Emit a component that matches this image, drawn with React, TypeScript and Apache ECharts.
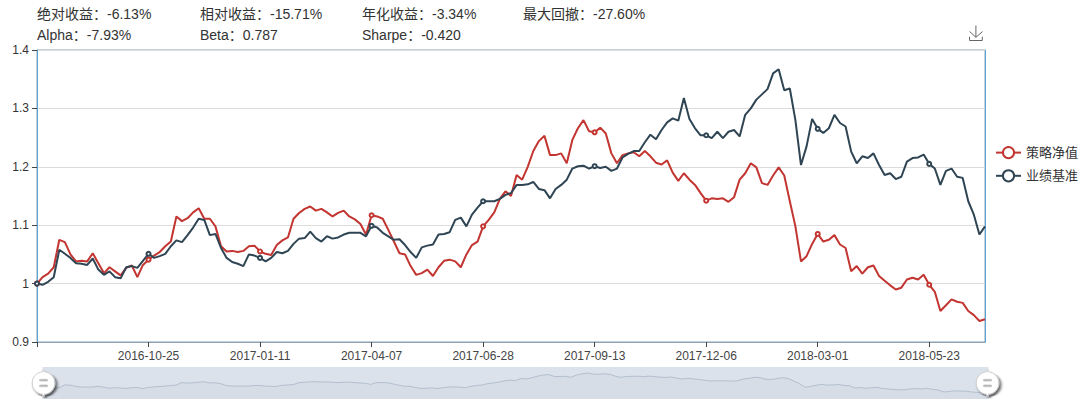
import React, { useEffect, useRef } from 'react';
import * as echarts from 'echarts';

// ---- data ----
const startDate = '2016-08-08';
const endDate = '2018-06-29';
const tickLabels = [
  '2016-10-25', '2017-01-11', '2017-04-07', '2017-06-28',
  '2017-09-13', '2017-12-06', '2018-03-01', '2018-05-23',
];
const anchorIndex = [0, 20, 40, 60, 80, 100, 120, 140, 160, 170];

const strategyNav = [
  1.000, 1.011, 1.017, 1.028, 1.075, 1.071, 1.050, 1.038, 1.039, 1.038,
  1.052, 1.035, 1.018, 1.028, 1.021, 1.014, 1.027, 1.031, 1.011, 1.032,
  1.041, 1.048, 1.054, 1.064, 1.072, 1.115, 1.107, 1.112, 1.122, 1.129,
  1.111, 1.111, 1.098, 1.064, 1.055, 1.056, 1.054, 1.056, 1.064, 1.065,
  1.055, 1.051, 1.049, 1.066, 1.074, 1.079, 1.111, 1.121, 1.128, 1.132,
  1.125, 1.128, 1.122, 1.115, 1.121, 1.125, 1.115, 1.110, 1.102, 1.084,
  1.117, 1.115, 1.111, 1.092, 1.072, 1.052, 1.050, 1.030, 1.015, 1.018,
  1.024, 1.013, 1.028, 1.039, 1.041, 1.038, 1.028, 1.050, 1.066, 1.072,
  1.098, 1.109, 1.122, 1.145, 1.158, 1.150, 1.186, 1.178, 1.200, 1.227,
  1.244, 1.253, 1.220, 1.220, 1.223, 1.206, 1.246, 1.266, 1.280, 1.261,
  1.259, 1.267, 1.257, 1.223, 1.206, 1.220, 1.223, 1.225, 1.218, 1.227,
  1.218, 1.207, 1.204, 1.211, 1.190, 1.176, 1.189, 1.178, 1.169, 1.155,
  1.142, 1.146, 1.145, 1.146, 1.140, 1.148, 1.178, 1.189, 1.206, 1.199,
  1.172, 1.169, 1.185, 1.199, 1.185, 1.141, 1.098, 1.038, 1.047, 1.068,
  1.085, 1.072, 1.075, 1.083, 1.067, 1.061, 1.021, 1.030, 1.017, 1.028,
  1.031, 1.013, 1.005, 0.997, 0.990, 0.993, 1.007, 1.010, 1.007, 1.015,
  0.998, 0.986, 0.953, 0.963, 0.973, 0.969, 0.967, 0.953, 0.946, 0.936,
  0.939,
];

const benchmark = [
  1.000, 0.998, 1.003, 1.011, 1.058, 1.051, 1.044, 1.035, 1.034, 1.032,
  1.043, 1.024, 1.015, 1.021, 1.011, 1.009, 1.028, 1.030, 1.027, 1.039,
  1.051, 1.044, 1.047, 1.051, 1.064, 1.074, 1.071, 1.083, 1.096, 1.111,
  1.109, 1.083, 1.085, 1.061, 1.044, 1.037, 1.034, 1.030, 1.050, 1.048,
  1.044, 1.038, 1.044, 1.054, 1.052, 1.056, 1.068, 1.077, 1.078, 1.089,
  1.078, 1.072, 1.081, 1.077, 1.079, 1.084, 1.087, 1.087, 1.087, 1.081,
  1.099, 1.096, 1.087, 1.081, 1.075, 1.076, 1.066, 1.054, 1.044, 1.062,
  1.065, 1.067, 1.084, 1.085, 1.088, 1.109, 1.113, 1.098, 1.118, 1.130,
  1.141, 1.141, 1.141, 1.145, 1.152, 1.155, 1.169, 1.169, 1.170, 1.174,
  1.162, 1.160, 1.146, 1.162, 1.169, 1.178, 1.197, 1.201, 1.202, 1.197,
  1.201, 1.198, 1.200, 1.193, 1.197, 1.216, 1.222, 1.227, 1.227, 1.242,
  1.255, 1.247, 1.263, 1.276, 1.283, 1.279, 1.318, 1.282, 1.266, 1.254,
  1.254, 1.249, 1.260, 1.249, 1.260, 1.263, 1.252, 1.289, 1.300, 1.315,
  1.324, 1.333, 1.360, 1.367, 1.331, 1.334, 1.280, 1.203, 1.235, 1.282,
  1.265, 1.258, 1.266, 1.289, 1.275, 1.269, 1.226, 1.206, 1.218, 1.215,
  1.223, 1.203, 1.186, 1.189, 1.179, 1.183, 1.209, 1.215, 1.216, 1.221,
  1.205, 1.197, 1.169, 1.193, 1.197, 1.183, 1.181, 1.141, 1.118, 1.084,
  1.098,
];

const statsRow1 = ['绝对收益：-6.13%', '相对收益：-15.71%', '年化收益：-3.34%', '最大回撤：-27.60%'];
const statsRow2 = ['Alpha：-7.93%', 'Beta：0.787', 'Sharpe：-0.420'];
const seriesNames = ['策略净值', '业绩基准'];

// category dates built from the labelled anchor dates
function buildCategories(): string[] {
  const anchors = [startDate, ...tickLabels, endDate].map((d) => Date.parse(d + 'T00:00:00Z'));
  const out: string[] = [];
  const n = anchorIndex[anchorIndex.length - 1] + 1;
  for (let i = 0; i < n; i++) {
    let s = 0;
    while (s < anchorIndex.length - 2 && i > anchorIndex[s + 1]) s++;
    const i0 = anchorIndex[s], i1 = anchorIndex[s + 1];
    const t0 = anchors[s], t1 = anchors[s + 1];
    const dayMs = 86400000;
    const days = Math.round(((t1 - t0) / dayMs) * (i - i0) / (i1 - i0));
    const d = new Date(t0 + days * dayMs);
    out.push(d.toISOString().slice(0, 10));
  }
  return out;
}
const categories = buildCategories();

const handlePath =
  'path://M10.7,11.9v-1.3H9.3v1.3c-4.9,0.3-8.8,4.4-8.8,9.4c0,5,3.9,9.1,8.8,9.4v1.3h1.3v-1.3c4.9-0.3,8.8-4.4,8.8-9.4C19.5,16.3,15.6,12.2,10.7,11.9z M13.3,24.4H6.7V23h6.6V24.4z M13.3,19.6H6.7v-1.4h6.6V19.6z';

export default function App() {
  const ref = useRef<HTMLDivElement>(null);

  useEffect(() => {
    document.body.style.margin = '0';
    if (!ref.current) return;
    const chart = echarts.init(ref.current, undefined, { renderer: 'svg' });
    const fontFamily = '"Liberation Sans", Arial, "Noto Sans CJK SC", sans-serif';
    const colX = [37, 200, 362, 523];

    const graphics: any[] = [];
    statsRow1.forEach((t, k) =>
      graphics.push({
        type: 'text', x: colX[k], y: 14,
        style: { text: t, fontSize: 14, fill: '#333', fontFamily, verticalAlign: 'middle' },
      })
    );
    statsRow2.forEach((t, k) =>
      graphics.push({
        type: 'text', x: colX[k], y: 35,
        style: { text: t, fontSize: 14, fill: '#333', fontFamily, verticalAlign: 'middle' },
      })
    );

    chart.setOption({
      animation: false,
      textStyle: { fontFamily },
      color: ['#c23531', '#2f4554'],
      graphic: graphics,
      toolbox: {
        right: 80,
        top: 8,
        itemSize: 15,
        feature: { saveAsImage: { title: '' } },
        iconStyle: { borderColor: '#666' },
      },
      legend: {
        data: seriesNames,
        orient: 'vertical',
        left: 990,
        top: 141,
        itemWidth: 25,
        itemHeight: 14,
        itemGap: 10,
        textStyle: { fontSize: 13, color: '#333' },
      },
      grid: {
        left: 37, right: 95, top: 50, bottom: 64,
        show: true, borderColor: '#8da2b5', borderWidth: 1,
      },
      xAxis: {
        type: 'category',
        data: categories,
        boundaryGap: false,
        axisLine: { lineStyle: { color: '#8da2b5' } },
        axisTick: { interval: 19, lineStyle: { color: '#444' } },
        axisLabel: {
          interval: 19,
          formatter: (v: string, i: number) => (i === 0 ? '' : v),
          color: '#444',
          fontSize: 12,
        },
        splitLine: { show: false },
      },
      yAxis: [
        {
          type: 'value', min: 0.9, max: 1.4, interval: 0.1,
          axisLine: { show: true, lineStyle: { color: '#5aa5d8' } },
          axisTick: { show: true, lineStyle: { color: '#444' } },
          axisLabel: { color: '#333', fontSize: 12 },
          splitLine: { lineStyle: { color: '#dcdcdc' } },
        },
        {
          type: 'value', position: 'right', min: 0.9, max: 1.4, interval: 0.1,
          axisLine: { show: true, lineStyle: { color: '#5aa5d8' } },
          axisTick: { show: false },
          axisLabel: { show: false },
          splitLine: { show: false },
        },
      ],
      dataZoom: [
        {
          type: 'slider',
          xAxisIndex: 0,
          start: 0,
          end: 100,
          left: 40,
          right: 94,
          top: 367,
          height: 32,
          showDetail: false,
          brushSelect: false,
          moveHandleSize: 0,
          borderColor: 'transparent',
          backgroundColor: 'transparent',
          fillerColor: 'rgba(167,183,204,0.4)',
          handleIcon: handlePath,
          handleSize: '80%',
          handleStyle: {
            color: '#fff',
            borderColor: '#ccc',
            shadowBlur: 3,
            shadowColor: 'rgba(0,0,0,0.6)',
            shadowOffsetX: 2,
            shadowOffsetY: 2,
          },
          dataBackground: {
            lineStyle: { color: '#aab6c4', width: 0.8 },
            areaStyle: { color: 'rgba(47,69,84,0.14)' },
          },
          selectedDataBackground: {
            lineStyle: { color: '#aab6c4', width: 0.8 },
            areaStyle: { color: 'rgba(47,69,84,0.14)' },
          },
        },
      ],
      series: [
        {
          name: seriesNames[0],
          type: 'line',
          data: strategyNav,
          symbol: 'emptyCircle',
          symbolSize: 4,
          itemStyle: { borderWidth: 1.2 },
          lineStyle: { width: 2 },
        },
        {
          name: seriesNames[1],
          type: 'line',
          data: benchmark,
          symbol: 'emptyCircle',
          symbolSize: 4,
          itemStyle: { borderWidth: 1.2 },
          lineStyle: { width: 2 },
        },
      ],
    });

    return () => chart.dispose();
  }, []);

  return <div ref={ref} style={{ width: 1080, height: 406 }} />;
}
